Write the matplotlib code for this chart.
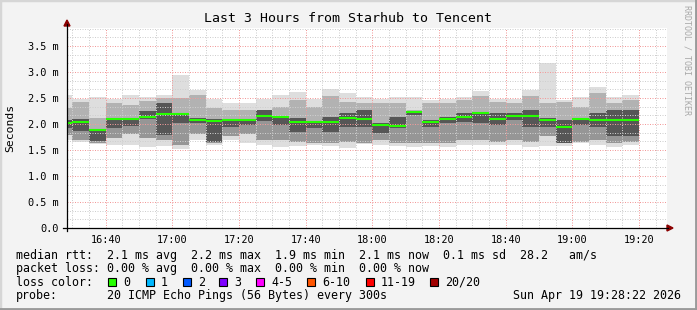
import matplotlib
matplotlib.use("Agg")
import matplotlib.pyplot as plt
from matplotlib.patches import Rectangle, Polygon
from matplotlib.lines import Line2D
import numpy as np
import pandas as pd

# ---------------- data ----------------
title = "Last 3 Hours from Starhub to Tencent"
window_start = "16:28:22"
window_end = "19:28:22"
# start of each 5-minute step (the first one is clipped by the window start)
step_starts = ["16:28:22"] + [t.strftime("%H:%M") for t in pd.date_range("16:30", "19:15", freq="5min")]
step_end_last = "19:20"

# values in ms
median_ms = [2.01, 2.04, 1.88, 2.10, 2.10, 2.14, 2.20, 2.20, 2.08, 2.06,
             2.08, 2.08, 2.15, 2.14, 2.03, 2.04, 2.03, 2.12, 2.10, 1.99,
             1.96, 2.23, 2.04, 2.10, 2.14, 2.22, 2.10, 2.15, 2.15, 2.08,
             1.95, 2.10, 2.08, 2.08, 2.08]
ping_min = [1.70, 1.66, 1.62, 1.60, 1.60, 1.56, 1.58, 1.51, 1.69, 1.60,
            1.69, 1.63, 1.60, 1.56, 1.58, 1.60, 1.58, 1.53, 1.62, 1.60,
            1.58, 1.56, 1.58, 1.56, 1.60, 1.60, 1.60, 1.60, 1.56, 1.58,
            1.58, 1.64, 1.60, 1.56, 1.60]
ping_max = [2.56, 2.49, 2.52, 2.49, 2.56, 2.51, 2.56, 2.94, 2.65, 2.49,
            2.40, 2.40, 2.49, 2.56, 2.62, 2.49, 2.67, 2.59, 2.52, 2.48,
            2.51, 2.51, 2.46, 2.48, 2.52, 2.64, 2.48, 2.49, 2.65, 3.18,
            2.46, 2.52, 2.71, 2.52, 2.56]
mid_lo = [1.78, 1.70, 1.64, 1.73, 1.80, 1.73, 1.70, 1.60, 1.80, 1.64,
          1.76, 1.80, 1.69, 1.69, 1.66, 1.63, 1.63, 1.66, 1.63, 1.69,
          1.63, 1.63, 1.63, 1.63, 1.69, 1.69, 1.66, 1.69, 1.66, 1.76,
          1.63, 1.66, 1.69, 1.63, 1.66]
mid_hi = [2.30, 2.43, 2.12, 2.40, 2.37, 2.44, 2.50, 2.50, 2.55, 2.30,
          2.27, 2.27, 2.27, 2.33, 2.46, 2.33, 2.53, 2.43, 2.40, 2.40,
          2.40, 2.27, 2.40, 2.40, 2.46, 2.53, 2.43, 2.40, 2.53, 2.40,
          2.43, 2.33, 2.59, 2.40, 2.46]
core_lo = [1.92, 1.86, 1.68, 1.92, 1.96, 2.09, 1.78, 2.02, 2.02, 1.66,
           1.95, 1.98, 2.05, 1.98, 1.85, 1.92, 1.85, 1.95, 1.95, 1.82,
           1.92, 2.17, 1.95, 2.01, 2.04, 2.01, 1.98, 2.08, 1.95, 1.95,
           1.63, 1.98, 1.95, 1.76, 1.76]
core_hi = [2.08, 2.09, 1.88, 2.09, 2.12, 2.25, 2.40, 2.18, 2.12, 2.09,
           2.08, 2.08, 2.27, 2.11, 2.12, 2.04, 2.14, 2.21, 2.27, 2.01,
           2.14, 2.24, 2.08, 2.14, 2.21, 2.24, 2.21, 2.21, 2.27, 2.11,
           2.08, 2.11, 2.21, 2.27, 2.27]

y_ticks = [0.0, 0.5, 1.0, 1.5, 2.0, 2.5, 3.0, 3.5]
y_tick_labels = ["0.0", "0.5 m", "1.0 m", "1.5 m", "2.0 m", "2.5 m", "3.0 m", "3.5 m"]
x_tick_labels = ["16:40", "17:00", "17:20", "17:40", "18:00", "18:20", "18:40", "19:00", "19:20"]

legend_rtt = "median rtt:  2.1 ms avg  2.2 ms max  1.9 ms min  2.1 ms now  0.1 ms sd  28.2   am/s"
legend_loss = "packet loss: 0.00 % avg  0.00 % max  0.00 % min  0.00 % now"
loss_labels = ["0", "1", "2", "3", "4-5", "6-10", "11-19", "20/20"]
loss_colors = ["#26ff00", "#00b8ff", "#0059ff", "#7e00ff", "#ff00ff", "#ff5500", "#ff0000", "#a10000"]
probe_text = "20 ICMP Echo Pings (56 Bytes) every 300s"
stamp_text = "Sun Apr 19 19:28:22 2026"


def to_min(s):
    parts = [float(p) for p in s.split(":")]
    while len(parts) < 3:
        parts.append(0.0)
    return parts[0] * 60 + parts[1] + parts[2] / 60


# ---------------- figure ----------------
W, H, DPI = 697, 310, 100
MONO = "DejaVu Sans Mono"
BG = "#f3f3f3"

fig = plt.figure(figsize=(W / DPI, H / DPI), dpi=DPI, facecolor=BG)


def fx(px):
    return px / W


def fy(py):
    return 1 - py / H


L, R, T, B = 67, 667, 28, 228
ax = fig.add_axes([fx(L), fy(B), (R - L) / W, (B - T) / H])
ax.set_facecolor("white")
x0, x1 = to_min(window_start), to_min(window_end)
ax.set_xlim(x0, x1)
ax.set_ylim(0, (B - T) / 52.0)
for s in ax.spines.values():
    s.set_visible(False)

starts = np.array([to_min(s) for s in step_starts])
ends = np.append(starts[1:], to_min(step_end_last))
widths = ends - starts

lo, hi = np.array(ping_min), np.array(ping_max)
mlo, mhi = np.array(mid_lo), np.array(mid_hi)
clo, chi = np.array(core_lo), np.array(core_hi)
kw = dict(width=widths, align="edge", linewidth=0)
ax.bar(starts, hi - lo, bottom=lo, color="#dedede", zorder=1, **kw)
ax.bar(starts, mhi - chi, bottom=chi, color="#b2b2b2", zorder=2, **kw)
ax.bar(starts, clo - mlo, bottom=mlo, color="#969696", zorder=2, **kw)
ax.bar(starts, chi - clo, bottom=clo, color="#565656", zorder=3, **kw)

# grid (dotted, drawn over the smoke)
dot = (0, (1, 1.5))
ymax = ax.get_ylim()[1]
minor_y = np.arange(0, ymax + 1e-9, 0.5 / 3)
for yv in minor_y:
    if abs(yv / 0.5 - round(yv / 0.5)) < 1e-6 or yv == 0:
        continue
    ax.axhline(yv, color="#cfcfcf", lw=0.72, ls=dot, zorder=4)
for yv in y_ticks[1:]:
    ax.axhline(yv, color="#f29a9a", lw=0.72, ls=dot, zorder=4)
minor_x = np.arange(np.ceil(x0 / 5) * 5, x1, 5)
for xv in minor_x:
    if int(round(xv)) % 20 == 0:
        ax.axvline(xv, color="#f29a9a", lw=0.72, ls=dot, zorder=4)
    else:
        ax.axvline(xv, color="#cfcfcf", lw=0.72, ls=dot, zorder=4)

# median lines
ax.hlines(median_ms, starts, ends, colors=loss_colors[0], lw=1.5, zorder=6)

# ticks
ax.set_yticks(y_ticks)
ax.set_yticklabels(y_tick_labels, fontfamily=MONO, fontsize=7.4)
ax.set_xticks([to_min(t) for t in x_tick_labels])
ax.set_xticklabels(x_tick_labels, fontfamily=MONO, fontsize=7.4)
ax.tick_params(axis="y", length=0, pad=6)
ax.tick_params(axis="x", length=0, pad=5)

# axis lines + arrows
fig.add_artist(Line2D([fx(L), fx(L)], [fy(B + 3), fy(24)], color="black", lw=0.9))
fig.add_artist(Line2D([fx(L - 4), fx(R + 1)], [fy(B), fy(B)], color="black", lw=0.9))
fig.add_artist(Polygon([[fx(L), fy(20)], [fx(L - 3), fy(26)], [fx(L + 3), fy(26)]],
                       closed=True, color="#8b0000", transform=fig.transFigure))
fig.add_artist(Polygon([[fx(R + 6), fy(B)], [fx(R), fy(B - 3)], [fx(R), fy(B + 3)]],
                       closed=True, color="#8b0000", transform=fig.transFigure))

# texts
fig.text(fx(348), fy(19), title, ha="center", va="center", fontfamily=MONO, fontsize=9.5)
fig.text(fx(10), fy(128), "Seconds", rotation=90, ha="center", va="center", fontfamily=MONO, fontsize=8.2)
fig.text(fx(687), fy(5), "RRDTOOL / TOBI OETIKER", rotation=270, ha="center", va="top",
         fontfamily=MONO, fontsize=6, color="#a8a8a8")

LX = 16
fig.text(fx(LX), fy(255), legend_rtt, ha="left", va="center", fontfamily=MONO, fontsize=8.4)
fig.text(fx(LX), fy(268.5), legend_loss, ha="left", va="center", fontfamily=MONO, fontsize=8.4)
fig.text(fx(LX), fy(282), "loss color:", ha="left", va="center", fontfamily=MONO, fontsize=8.4)
box_x = [108.3, 145.7, 182.7, 219.3, 256, 307.3, 366, 430]
for bx, lab, col in zip(box_x, loss_labels, loss_colors):
    fig.add_artist(Rectangle((fx(bx), fy(286)), 8 / W, 8 / H, transform=fig.transFigure,
                             facecolor=col, edgecolor="black", lw=0.8))
    fig.text(fx(bx + 15), fy(282), lab, ha="left", va="center", fontfamily=MONO, fontsize=8.4)
fig.text(fx(LX), fy(295.5), "probe:", ha="left", va="center", fontfamily=MONO, fontsize=8.4)
fig.text(fx(107.3), fy(295.5), probe_text, ha="left", va="center", fontfamily=MONO, fontsize=8.4)
fig.text(fx(681), fy(295.5), stamp_text, ha="right", va="center", fontfamily=MONO, fontsize=8.4)

# frame
fig.add_artist(Line2D([0, 0, 1], [0, 1, 1], color="#d6d6d6", lw=2.5, transform=fig.transFigure))
fig.add_artist(Line2D([0, 1, 1], [0, 0, 1], color="#9a9a9a", lw=3.5, transform=fig.transFigure))

fig.savefig("out.png", dpi=DPI, facecolor=BG)
